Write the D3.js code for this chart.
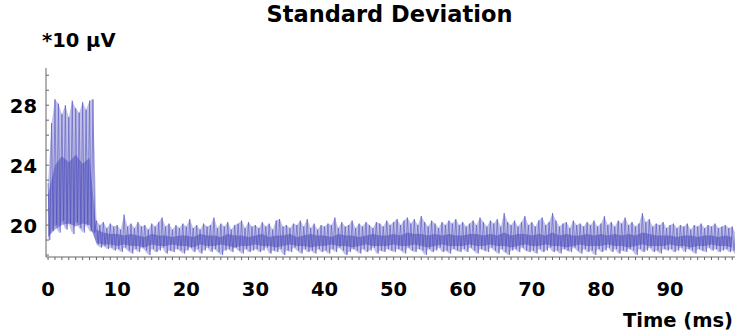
<!DOCTYPE html>
<html>
<head>
<meta charset="utf-8">
<script src="https://cdn.jsdelivr.net/npm/d3@7"></script>
<style>
  html, body { margin: 0; padding: 0; background: #fff; }
  svg { display: block; font-family: "DejaVu Sans", sans-serif; font-weight: bold; }
</style>
</head>
<body>
<div id="chart"></div>
<script>
// sample spacing of the peak/trough series (ms); troughs sit a quarter-ms after each peak
const SAMPLE_MS = 0.5;
const CORE_MS = 1;

// upper excursions, one per 0.5 ms (rows = 10 ms)
const peaks = [
  22.8, 26.8, 28.4, 28.1, 27.4, 28.0, 27.2, 28.3, 27.8, 27.5, 28.2, 27.7, 28.3, 28.4, 20.3, 20.0, 20.2, 19.8, 20.1, 19.9,
  20.0, 19.7, 20.7, 19.9, 20.1, 19.8, 20.2, 19.9, 20.0, 19.7, 20.1, 19.9, 20.2, 20.5, 19.9, 20.1, 19.7, 20.0, 19.8, 20.1,
  19.9, 20.4, 19.8, 20.0, 19.7, 20.1, 19.9, 20.0, 20.5, 19.8, 20.1, 19.9, 20.2, 19.7, 20.0, 20.1, 20.3, 19.8, 20.2, 19.9,
  20.0, 19.8, 20.2, 19.9, 20.1, 19.7, 20.3, 20.4, 19.9, 20.0, 19.8, 20.1, 20.0, 20.3, 19.9, 20.4, 19.8, 20.1, 19.7, 20.0,
  19.9, 20.1, 20.0, 20.5, 19.8, 20.2, 19.9, 20.0, 20.3, 19.8, 20.1, 19.9, 20.2, 20.0, 19.8, 20.2, 20.1, 19.9, 20.3, 20.0,
  20.2, 20.4, 20.0, 20.3, 20.5, 20.1, 20.4, 20.0, 20.6, 20.2, 19.9, 20.3, 20.1, 19.8, 20.2, 20.0, 20.3, 20.1, 20.4, 20.0,
  20.2, 19.9, 20.1, 20.3, 20.0, 20.5, 20.2, 19.9, 20.3, 20.1, 20.4, 19.9, 20.8, 20.2, 20.0, 20.3, 19.9, 20.2, 20.6, 20.0,
  20.2, 19.9, 20.3, 20.5, 20.0, 20.2, 20.8, 20.3, 19.9, 20.1, 20.2, 19.8, 20.3, 20.0, 20.1, 19.9, 20.2, 20.0, 20.3, 19.9,
  20.1, 20.6, 20.0, 20.2, 19.9, 20.3, 20.1, 20.5, 20.0, 20.2, 19.9, 20.1, 20.8, 20.2, 20.4, 19.9, 20.1, 20.0, 20.2, 19.8,
  20.0, 20.1, 19.8, 20.0, 19.9, 20.1, 19.7, 20.0, 19.9, 20.1, 19.8, 20.0, 19.9, 20.1, 19.8, 19.9, 20.0, 19.8, 19.9, 19.4
];

// lower excursions, one per 0.5 ms
const troughs = [
  19.0, 19.6, 20.0, 19.5, 20.3, 19.7, 20.1, 19.4, 20.2, 19.8, 19.5, 20.0, 19.6, 19.5, 18.7, 18.5, 18.6, 18.4, 18.5, 18.3,
  18.4, 18.2, 18.5, 18.3, 18.1, 18.4, 18.2, 18.5, 18.3, 18.0, 18.4, 18.2, 18.3, 18.5, 18.1, 18.3, 18.2, 18.4, 18.3, 18.1,
  18.3, 18.5, 18.2, 18.4, 18.1, 18.3, 18.5, 18.2, 18.4, 18.2, 18.0, 18.3, 18.4, 18.2, 18.5, 18.3, 18.1, 18.4, 18.2, 18.3,
  18.4, 18.2, 18.3, 18.5, 18.1, 18.3, 18.2, 18.4, 18.0, 18.3, 18.2, 18.5, 18.3, 18.1, 18.4, 18.2, 18.3, 18.1, 18.4, 18.2,
  18.3, 18.1, 18.4, 18.2, 18.5, 18.3, 18.0, 18.2, 18.4, 18.3, 18.1, 18.4, 18.2, 18.3, 18.5, 18.1, 18.3, 18.2, 18.4, 18.3,
  18.2, 18.4, 18.3, 18.1, 18.5, 18.3, 18.2, 18.4, 18.3, 18.0, 18.4, 18.2, 18.3, 18.5, 18.2, 18.3, 18.1, 18.4, 18.3, 18.2,
  18.4, 18.2, 18.5, 18.3, 18.1, 18.4, 18.3, 18.2, 18.5, 18.3, 18.1, 18.4, 18.2, 18.0, 18.3, 18.4, 18.2, 18.5, 18.3, 18.2,
  18.3, 18.1, 18.4, 18.2, 18.3, 18.5, 18.2, 18.3, 18.1, 18.4, 18.3, 18.2, 18.5, 18.3, 18.1, 18.4, 18.2, 18.3, 18.0, 18.4,
  18.2, 18.3, 18.5, 18.2, 18.4, 18.1, 18.3, 18.2, 18.4, 18.3, 18.0, 18.4, 18.2, 18.3, 18.5, 18.2, 18.3, 18.1, 18.4, 18.3,
  18.4, 18.2, 18.3, 18.5, 18.2, 18.4, 18.3, 18.1, 18.4, 18.3, 18.2, 18.5, 18.3, 18.4, 18.2, 18.3, 18.4, 18.2, 18.3, 18.0
];

// dense core of the trace, one pair per ms
const coreHi = [
  22.0, 24.0, 24.6, 24.2, 24.7, 24.1, 24.5, 19.7, 19.5, 19.4,
  19.4, 19.3, 19.4, 19.3, 19.2, 19.4, 19.3, 19.3, 19.2, 19.3,
  19.3, 19.2, 19.4, 19.3, 19.3, 19.2, 19.4, 19.3, 19.3, 19.2,
  19.3, 19.4, 19.2, 19.3, 19.3, 19.4, 19.2, 19.3, 19.4, 19.3,
  19.3, 19.2, 19.4, 19.3, 19.3, 19.2, 19.3, 19.4, 19.3, 19.3,
  19.4, 19.3, 19.5, 19.4, 19.4, 19.3, 19.4, 19.3, 19.4, 19.3,
  19.3, 19.4, 19.4, 19.3, 19.4, 19.3, 19.5, 19.3, 19.4, 19.4,
  19.3, 19.4, 19.3, 19.5, 19.3, 19.4, 19.3, 19.3, 19.4, 19.3,
  19.4, 19.3, 19.4, 19.3, 19.4, 19.3, 19.5, 19.4, 19.3, 19.3,
  19.3, 19.2, 19.3, 19.3, 19.2, 19.3, 19.3, 19.2, 19.3, 19.2
];
const coreLo = [
  19.2, 19.7, 20.0, 20.1, 19.9, 20.1, 20.0, 18.8, 18.7, 18.7,
  18.6, 18.7, 18.6, 18.6, 18.5, 18.7, 18.6, 18.6, 18.7, 18.6,
  18.6, 18.5, 18.7, 18.6, 18.6, 18.7, 18.6, 18.5, 18.6, 18.6,
  18.7, 18.6, 18.6, 18.5, 18.6, 18.7, 18.6, 18.6, 18.5, 18.6,
  18.6, 18.7, 18.6, 18.6, 18.5, 18.6, 18.7, 18.6, 18.6, 18.6,
  18.7, 18.6, 18.6, 18.7, 18.6, 18.5, 18.6, 18.7, 18.6, 18.6,
  18.6, 18.7, 18.6, 18.6, 18.7, 18.6, 18.6, 18.5, 18.6, 18.7,
  18.6, 18.6, 18.7, 18.6, 18.6, 18.5, 18.6, 18.7, 18.6, 18.6,
  18.6, 18.7, 18.6, 18.6, 18.5, 18.6, 18.7, 18.6, 18.6, 18.6,
  18.7, 18.6, 18.6, 18.5, 18.6, 18.6, 18.7, 18.6, 18.6, 18.5
];

const yLabelTicks = [20, 24, 28];
const xLabelTicks = [0, 10, 20, 30, 40, 50, 60, 70, 80, 90];

const W = 735, H = 334;
const plot = { left: 46, right: 735, top: 73, bottom: 257 };

const svg = d3.select("#chart").append("svg").attr("width", W).attr("height", H);

const x = d3.scaleLinear().domain([-0.3, 99.4]).range([plot.left, plot.right]);
const y = d3.scaleLinear().domain([17.87, 30.15]).range([plot.bottom, plot.top]);

svg.append("clipPath").attr("id", "plot-clip")
  .append("rect")
  .attr("x", plot.left).attr("y", 0)
  .attr("width", plot.right - plot.left).attr("height", plot.bottom);

const g = svg.append("g").attr("clip-path", "url(#plot-clip)");

// envelope fill between peaks and troughs
const env = peaks.map((p, i) => ({ t: i * SAMPLE_MS, hi: p, lo: troughs[i] }));
g.append("path")
  .datum(env)
  .attr("fill", "#8686d2")
  .attr("fill-opacity", 0.5)
  .attr("d", d3.area().x((d) => x(d.t)).y0((d) => y(d.lo)).y1((d) => y(d.hi)));

// zig-zag trace: peak, then trough a quarter-ms later
const zig = [];
peaks.forEach((p, i) => {
  zig.push([i * SAMPLE_MS, p]);
  zig.push([i * SAMPLE_MS + SAMPLE_MS / 2, troughs[i]]);
});
g.append("path")
  .datum(zig)
  .attr("fill", "none")
  .attr("stroke", "#5a5ac2")
  .attr("stroke-opacity", 0.7)
  .attr("stroke-width", 0.9)
  .attr("d", d3.line().x((d) => x(d[0])).y((d) => y(d[1])));

// dense core band
const core = coreHi.map((h, i) => ({ t: i * CORE_MS, hi: h, lo: coreLo[i] }));
g.append("path")
  .datum(core)
  .attr("fill", "#3b3bb4")
  .attr("fill-opacity", 0.45)
  .attr("d", d3.area().x((d) => x(d.t)).y0((d) => y(d.lo)).y1((d) => y(d.hi)));

// axes
const axisColor = "#666";
svg.append("line")
  .attr("x1", plot.left).attr("x2", plot.left)
  .attr("y1", plot.top - 5).attr("y2", plot.bottom)
  .attr("stroke", axisColor).attr("stroke-width", 1);
svg.append("line")
  .attr("x1", plot.left).attr("x2", plot.right)
  .attr("y1", plot.bottom).attr("y2", plot.bottom)
  .attr("stroke", axisColor).attr("stroke-width", 1);

svg.append("g")
  .selectAll("line")
  .data(d3.range(18, 31))
  .join("line")
  .attr("x1", plot.left).attr("x2", plot.left + 3)
  .attr("y1", (d) => y(d)).attr("y2", (d) => y(d))
  .attr("stroke", axisColor);

svg.append("g")
  .selectAll("line")
  .data(d3.range(0, 100))
  .join("line")
  .attr("x1", (d) => x(d)).attr("x2", (d) => x(d))
  .attr("y1", plot.bottom).attr("y2", plot.bottom + 3)
  .attr("stroke", axisColor);

svg.append("g")
  .selectAll("text")
  .data(yLabelTicks)
  .join("text")
  .attr("x", 37)
  .attr("y", (d) => y(d) + 7.5)
  .attr("text-anchor", "end")
  .attr("font-size", "19.5px")
  .attr("fill", "#000")
  .text((d) => d);

svg.append("g")
  .selectAll("text")
  .data(xLabelTicks)
  .join("text")
  .attr("x", (d) => x(d))
  .attr("y", 295.5)
  .attr("text-anchor", "middle")
  .attr("font-size", "19.5px")
  .attr("fill", "#000")
  .text((d) => d);

svg.append("text")
  .attr("x", 389.5).attr("y", 21.5)
  .attr("text-anchor", "middle")
  .attr("font-size", "22.5px")
  .text("Standard Deviation");

svg.append("text")
  .attr("x", 42).attr("y", 47)
  .attr("font-size", "19.5px")
  .text("*10 µV");

svg.append("text")
  .attr("x", 733).attr("y", 327)
  .attr("text-anchor", "end")
  .attr("font-size", "19.5px")
  .text("Time (ms)");
</script>
</body>
</html>
